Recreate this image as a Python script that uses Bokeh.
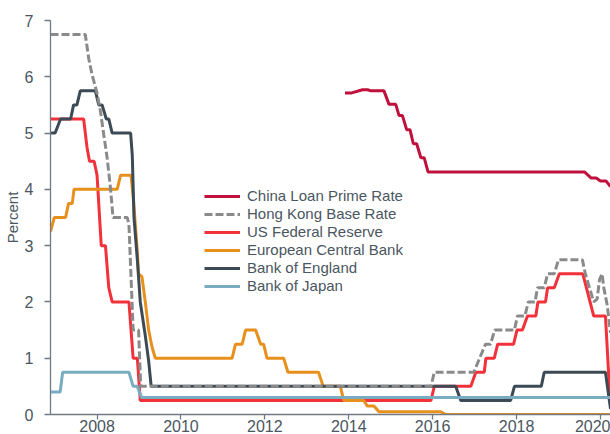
from bokeh.plotting import figure
from bokeh.models import Legend, LegendItem, FixedTicker, Range1d
from bokeh.embed import file_html
from bokeh.resources import INLINE

# ---- data (decimal years, percent) ----
china_x = [2013.91, 2014.05, 2014.33, 2014.45, 2014.53, 2014.84, 2014.96, 2015.12, 2015.20, 2015.28,
           2015.38, 2015.46, 2015.54, 2015.62, 2015.72, 2015.80, 2015.89, 2019.62, 2019.78, 2019.90,
           2020.00, 2020.13, 2020.24]
china_y = [5.71, 5.71, 5.77, 5.77, 5.75, 5.75, 5.51, 5.51, 5.31, 5.31,
           5.06, 5.06, 4.81, 4.81, 4.56, 4.56, 4.31, 4.31, 4.20, 4.20,
           4.15, 4.15, 4.05]

hk_x = [2006.89, 2007.72, 2007.80, 2007.88, 2008.00, 2008.08, 2008.16, 2008.24, 2008.32, 2008.38,
        2008.72, 2008.76, 2008.86, 2008.99, 2009.04, 2015.96, 2016.04, 2016.98, 2017.12, 2017.26,
        2017.38, 2017.48, 2017.95, 2018.02, 2018.20, 2018.28, 2018.44, 2018.50, 2018.66, 2018.74,
        2018.90, 2019.00, 2019.57, 2019.64, 2019.76, 2019.84, 2019.92, 2019.98, 2020.04, 2020.08,
        2020.16, 2020.24]
hk_y = [6.75, 6.75, 6.33, 6.04, 5.71, 5.39, 4.97, 4.56, 4.02, 3.50,
        3.50, 3.38, 1.50, 1.50, 0.50, 0.50, 0.75, 0.75, 1.00, 1.25,
        1.25, 1.50, 1.50, 1.75, 1.75, 2.00, 2.00, 2.25, 2.25, 2.50,
        2.50, 2.75, 2.75, 2.50, 2.20, 2.00, 2.05, 2.40, 2.50, 2.25,
        1.95, 1.45]

fed_x = [2006.89, 2007.68, 2007.76, 2007.82, 2007.93, 2008.00, 2008.10, 2008.20, 2008.28, 2008.36,
         2008.76, 2008.86, 2008.96, 2009.03, 2015.96, 2016.04, 2016.91, 2017.03, 2017.23, 2017.27,
         2017.47, 2017.55, 2017.93, 2018.01, 2018.14, 2018.26, 2018.46, 2018.51, 2018.69, 2018.74,
         2018.90, 2019.02, 2019.58, 2019.84, 2020.12, 2020.23]
fed_y = [5.25, 5.25, 4.75, 4.50, 4.50, 4.25, 3.00, 3.00, 2.25, 2.00,
         2.00, 1.00, 1.00, 0.25, 0.25, 0.50, 0.50, 0.75, 0.75, 1.00,
         1.00, 1.25, 1.25, 1.50, 1.50, 1.75, 1.75, 2.00, 2.00, 2.25,
         2.25, 2.50, 2.50, 1.75, 1.75, 0.25]

ecb_x = [2006.89, 2006.98, 2007.25, 2007.32, 2007.41, 2007.45, 2008.48, 2008.56, 2008.81, 2008.87,
         2008.96, 2008.99, 2009.07, 2009.15, 2009.23, 2009.31, 2009.39, 2011.22, 2011.30, 2011.46,
         2011.54, 2011.78, 2011.90, 2011.97, 2012.05, 2012.45, 2012.55, 2013.28, 2013.39, 2013.80,
         2013.88, 2014.36, 2014.44, 2014.60, 2014.72, 2016.19, 2016.31, 2020.24]
ecb_y = [3.25, 3.50, 3.50, 3.75, 3.75, 4.00, 4.00, 4.25, 4.25, 3.80,
         2.90, 2.50, 2.45, 2.00, 1.50, 1.20, 1.00, 1.00, 1.25, 1.25,
         1.50, 1.50, 1.25, 1.25, 1.00, 1.00, 0.75, 0.75, 0.50, 0.50,
         0.25, 0.25, 0.15, 0.15, 0.05, 0.05, 0.00, 0.00]

boe_x = [2006.89, 2007.00, 2007.13, 2007.37, 2007.44, 2007.52, 2007.60, 2007.96, 2008.04, 2008.12,
         2008.22, 2008.28, 2008.36, 2008.80, 2008.84, 2008.88, 2008.96, 2009.03, 2009.15, 2009.23,
         2009.29, 2016.55, 2016.67, 2017.86, 2017.95, 2018.59, 2018.66, 2020.12, 2020.24]
boe_y = [5.00, 5.00, 5.25, 5.25, 5.50, 5.50, 5.75, 5.75, 5.50, 5.50,
         5.25, 5.25, 5.00, 5.00, 4.60, 3.50, 2.75, 2.00, 1.40, 0.95,
         0.50, 0.50, 0.25, 0.25, 0.50, 0.50, 0.75, 0.75, 0.10]

boj_x = [2006.89, 2007.12, 2007.18, 2008.76, 2008.86, 2008.96, 2009.06, 2020.24]
boj_y = [0.40, 0.40, 0.75, 0.75, 0.50, 0.50, 0.30, 0.30]

x_ticks = [2008, 2010, 2012, 2014, 2016, 2018, 2020]
y_ticks = [0, 1, 2, 3, 4, 5, 6, 7]

series_names = ["China Loan Prime Rate", "Hong Kong Base Rate", "US Federal Reserve",
                "European Central Bank", "Bank of England", "Bank of Japan"]

FONT = "Liberation Sans"
TEXT = "#4a5661"
AXIS = "#6f7a83"

p = figure(width=610, height=434, output_backend="svg", toolbar_location=None,
           x_range=Range1d(2006.89, 2020.24), y_range=Range1d(0, 7),
           min_border_left=50, min_border_right=0, min_border_top=20, min_border_bottom=0,
           background_fill_color="white", border_fill_color="white")
p.outline_line_color = None
p.xgrid.visible = False
p.ygrid.visible = False

for ax in (p.xaxis[0], p.yaxis[0]):
    ax.axis_line_color = AXIS
    ax.axis_line_width = 1.3
    ax.major_tick_line_color = AXIS
    ax.major_tick_line_width = 1.3
    ax.major_tick_in = 0
    ax.minor_tick_line_color = None
    ax.major_label_text_font = FONT
    ax.major_label_text_font_size = "16px"
    ax.major_label_text_color = TEXT

p.xaxis.ticker = FixedTicker(ticks=x_ticks)
p.yaxis.ticker = FixedTicker(ticks=y_ticks)
p.xaxis.major_tick_out = 5
p.xaxis.major_label_standoff = 0
p.yaxis.major_tick_out = 6
p.yaxis.major_label_standoff = 11
p.yaxis.axis_label = "Percent"
p.yaxis.axis_label_text_font = FONT
p.yaxis.axis_label_text_font_size = "15px"
p.yaxis.axis_label_text_font_style = "normal"
p.yaxis.axis_label_text_color = TEXT
p.yaxis.axis_label_standoff = 1

LW = 3
r_fed = p.line(fed_x, fed_y, line_color="#f2313b", line_width=LW)
r_ecb = p.line(ecb_x, ecb_y, line_color="#e8901c", line_width=LW)
r_boe = p.line(boe_x, boe_y, line_color="#3c4a55", line_width=LW)
r_hk = p.line(hk_x, hk_y, line_color="#8a8a8a", line_width=LW, line_dash="8 3")
r_boj = p.line(boj_x, boj_y, line_color="#7aacc1", line_width=LW)
r_china = p.line(china_x, china_y, line_color="#c0103c", line_width=LW)

renderers = [r_china, r_hk, r_fed, r_ecb, r_boe, r_boj]
legend = Legend(items=[LegendItem(label=n, renderers=[r]) for n, r in zip(series_names, renderers)],
                location=(154, 120), orientation="vertical",
                glyph_width=36, glyph_height=16, label_height=16, spacing=1,
                padding=0, margin=0, label_standoff=7,
                border_line_color=None, background_fill_alpha=0,
                label_text_font=FONT, label_text_font_size="15px", label_text_color=TEXT)
p.add_layout(legend)

open("out.html", "w").write(file_html(p, INLINE))
